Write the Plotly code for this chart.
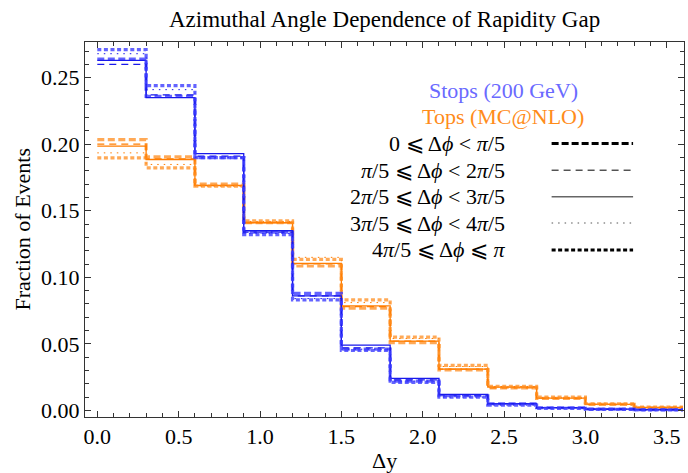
import plotly.graph_objects as go

# Bin edges of the rapidity gap histogram
edges = [0.0, 0.3, 0.6, 0.9, 1.2, 1.5, 1.8, 2.1, 2.4, 2.7, 3.0, 3.3, 3.6]

phi_labels = [
    "0 ⩽ Δ<i>ϕ</i> < <i>π</i>/5",
    "<i>π</i>/5 ⩽ Δ<i>ϕ</i> < 2<i>π</i>/5",
    "2<i>π</i>/5 ⩽ Δ<i>ϕ</i> < 3<i>π</i>/5",
    "3<i>π</i>/5 ⩽ Δ<i>ϕ</i> < 4<i>π</i>/5",
    "4<i>π</i>/5 ⩽ Δ<i>ϕ</i> ⩽ <i>π</i>",
]

# Stops (200 GeV)
stops_0 = [0.264, 0.236, 0.190, 0.134, 0.088, 0.046, 0.022, 0.011, 0.005, 0.002, 0.001, 0.0005]
stops_1 = [0.260, 0.237, 0.191, 0.134, 0.086, 0.047, 0.023, 0.011, 0.005, 0.002, 0.001, 0.0005]
stops_2 = [0.263, 0.235, 0.193, 0.135, 0.086, 0.049, 0.024, 0.012, 0.005, 0.002, 0.001, 0.0005]
stops_3 = [0.268, 0.241, 0.190, 0.133, 0.084, 0.046, 0.022, 0.010, 0.004, 0.002, 0.001, 0.0005]
stops_4 = [0.271, 0.244, 0.190, 0.132, 0.083, 0.045, 0.021, 0.010, 0.004, 0.0015, 0.0008, 0.0004]

# Tops (MC@NLO)
tops_0 = [0.2035, 0.1905, 0.170, 0.141, 0.1085, 0.0768, 0.051, 0.0305, 0.017, 0.009, 0.0045, 0.002]
tops_1 = [0.200, 0.189, 0.169, 0.141, 0.110, 0.078, 0.052, 0.031, 0.017, 0.009, 0.0045, 0.002]
tops_2 = [0.1985, 0.1885, 0.169, 0.141, 0.1105, 0.0785, 0.052, 0.031, 0.0175, 0.0092, 0.0046, 0.0022]
tops_3 = [0.1935, 0.1848, 0.1685, 0.142, 0.115, 0.081, 0.054, 0.033, 0.018, 0.0095, 0.0048, 0.0024]
tops_4 = [0.1898, 0.1823, 0.1685, 0.1425, 0.1135, 0.083, 0.055, 0.0338, 0.018, 0.010, 0.005, 0.0025]

stops = [stops_0, stops_1, stops_2, stops_3, stops_4]
tops = [tops_0, tops_1, tops_2, tops_3, tops_4]

styles = [
    dict(width=3.2, dash="7px,3.5px"),
    dict(width=1.2, dash="7px,5px"),
    dict(width=1.3, dash="solid"),
    dict(width=1.0, dash="1.5px,5px"),
    dict(width=3.2, dash="4px,2.6px"),
]

blue_thick = "rgba(60,60,255,0.8)"
blue_thin = "rgba(25,25,235,1)"
orange_thick = "rgba(255,140,30,0.75)"
orange_thin = "rgba(255,125,0,1)"

fig = go.Figure()


def add_series(vals, color_thick, color_thin, name):
    for i, v in enumerate(vals):
        st = styles[i]
        col = color_thick if st["width"] > 2 else color_thin
        fig.add_trace(go.Scatter(
            x=edges, y=v + [v[-1]], mode="lines", line_shape="hv",
            line=dict(color=col, width=st["width"], dash=st["dash"]),
            name=f"{name} {i}", showlegend=False, hoverinfo="skip"))


add_series(tops, orange_thick, orange_thin, "Tops")
add_series(stops, blue_thick, blue_thin, "Stops")

serif = "Liberation Serif, Times New Roman, serif"

# Legend (drawn as text + sample lines)
row_y = [0.7295, 0.6582, 0.5873, 0.5173, 0.4454]
sample_cols = ["black", "black", "#666666", "#555555", "black"]
sample_w = [3.0, 1.0, 1.4, 1.0, 3.0]
sample_dash = ["7px,3px", "7px,5px", "solid", "1.5px,5px", "4px,2.5px"]
shapes = []
annotations = []
for i, lab in enumerate(phi_labels):
    annotations.append(dict(x=0.7045, y=row_y[i], xref="paper", yref="paper",
                            text=lab, showarrow=False, xanchor="right", yanchor="middle",
                            font=dict(family=serif, size=22, color="black")))
    shapes.append(dict(type="line", xref="paper", yref="paper",
                       x0=0.779, x1=0.915, y0=row_y[i], y1=row_y[i],
                       line=dict(color=sample_cols[i], width=sample_w[i], dash=sample_dash[i])))

annotations.append(dict(x=0.698, y=0.871, xref="paper", yref="paper", text="Stops (200 GeV)",
                        showarrow=False, xanchor="center", yanchor="middle",
                        font=dict(family=serif, size=22, color="#6a6aff")))
annotations.append(dict(x=0.698, y=0.802, xref="paper", yref="paper", text="Tops (MC@NLO)",
                        showarrow=False, xanchor="center", yanchor="middle",
                        font=dict(family=serif, size=22, color="#ff8c1a")))
annotations.append(dict(x=0.5, y=1.0, xref="paper", yref="paper", yshift=23,
                        text="Azimuthal Angle Dependence of Rapidity Gap",
                        showarrow=False, xanchor="center", yanchor="middle",
                        font=dict(family=serif, size=23, color="black")))
annotations.append(dict(x=0.5, y=0.0, xref="paper", yref="paper", yshift=-43,
                        text="Δy", showarrow=False, xanchor="center", yanchor="middle",
                        font=dict(family=serif, size=22, color="black")))
annotations.append(dict(x=0.0, y=0.5, xref="paper", yref="paper", xshift=-63,
                        text="Fraction of Events", textangle=-90, showarrow=False,
                        xanchor="center", yanchor="middle",
                        font=dict(family=serif, size=22, color="black")))

fig.update_layout(
    width=688, height=473,
    margin=dict(l=85, r=4, t=42, b=56, autoexpand=False),
    paper_bgcolor="white", plot_bgcolor="white",
    font=dict(family=serif, size=22, color="black"),
    shapes=shapes, annotations=annotations,
    xaxis=dict(range=[-0.0756, 3.606], tickvals=[0, 0.5, 1.0, 1.5, 2.0, 2.5, 3.0, 3.5],
               tickformat=".1f", ticks="inside", ticklen=6, tickcolor="#333",
               minor=dict(dtick=0.1, tick0=0, ticks="inside", ticklen=4, tickcolor="#333", showgrid=False),
               showline=True, linecolor="#333", linewidth=1, mirror="ticks",
               showgrid=False, zeroline=False, automargin=False,
               tickfont=dict(family=serif, size=22)),
    yaxis=dict(range=[-0.00495, 0.2768], tickvals=[0, 0.05, 0.10, 0.15, 0.20, 0.25],
               tickformat=".2f", ticks="inside", ticklen=6, tickcolor="#333",
               minor=dict(dtick=0.01, tick0=0, ticks="inside", ticklen=4, tickcolor="#333", showgrid=False),
               showline=True, linecolor="#333", linewidth=1, mirror="ticks",
               showgrid=False, zeroline=False, automargin=False,
               tickfont=dict(family=serif, size=22)),
)

fig.write_html("out.html", config={"displayModeBar": False},
               post_script="document.body.style.margin='0';")
